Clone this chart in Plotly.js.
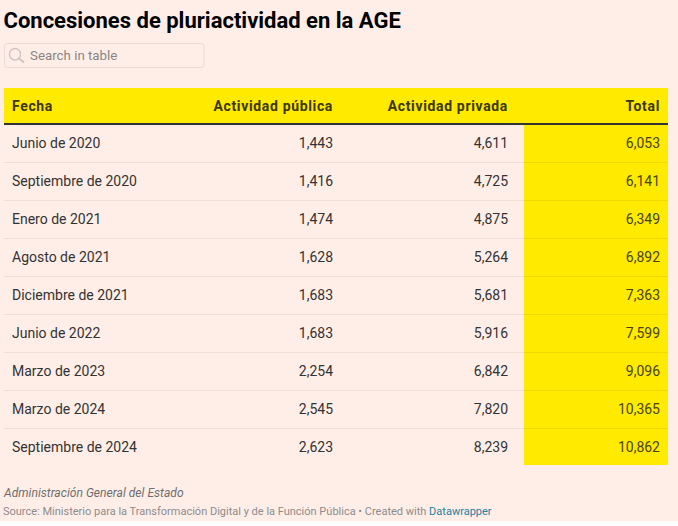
<!DOCTYPE html>
<html>
<head>
<meta charset="utf-8">
<script src="https://cdn.plot.ly/plotly-3.0.1.min.js"></script>
<style>
html,body{margin:0;padding:0;background:#fff}
#chart{width:678px;height:521px}
#chart .cell-text{transform:translateY(5px)}
#chart #header .cell-text{transform:translateY(4px);letter-spacing:.65px}
</style>
</head>
<body>
<div id="chart"></div>
<script>
const headers = ["Fecha", "Actividad pública", "Actividad privada", "", "Total"];
const fechas = ["Junio de 2020","Septiembre de 2020","Enero de 2021","Agosto de 2021","Diciembre de 2021","Junio de 2022","Marzo de 2023","Marzo de 2024","Septiembre de 2024"];
const publica = [1443,1416,1474,1628,1683,1683,2254,2545,2623];
const privada = [4611,4725,4875,5264,5681,5916,6842,7820,8239];
const total = [6053,6141,6349,6892,7363,7599,9096,10365,10862];
const spacer = fechas.map(() => "");

const W = 678, H = 521, BG = "#ffeee8", YEL = "#ffea00";
const px = x => x / W, py = y => 1 - y / H;
const FONT = "Roboto, sans-serif";

const trace = {
  type: "table",
  domain: {x: [px(4), px(668)], y: [py(466), py(88)]},
  columnwidth: [162, 175, 175, 8, 144],
  header: {
    values: headers.map(h => [h]),
    height: 36,
    align: ["left", "right", "right", "right", "right"],
    fill: {color: YEL},
    line: {width: 0, color: YEL},
    font: {family: FONT, size: 14, color: "#3d3800", weight: 700}
  },
  cells: {
    values: [fechas, publica, privada, spacer, total],
    format: ["", ",d", ",d", "", ",d"],
    height: 38,
    align: ["left", "right", "right", "right", "right"],
    fill: {color: [BG, BG, BG, BG, YEL]},
    line: {width: 0, color: BG},
    font: {family: FONT, size: 14, color: ["#333333", "#333333", "#333333", "#333333", "#4a4500"]}
  }
};

const hRule = (y, c, w) => ({type: "line", xref: "paper", yref: "paper", x0: px(4), x1: px(668), y0: py(y), y1: py(y), line: {color: c, width: w}, layer: "above"});
const rules = fechas.slice(0, -1).map((_, i) => hRule(162.5 + 38 * i, "rgba(90,50,30,0.09)", 1));

const layout = {
  width: W, height: H,
  margin: {l: 0, r: 0, t: 0, b: 0},
  paper_bgcolor: BG,
  plot_bgcolor: BG,
  font: {family: FONT},
  title: {
    text: "Concesiones de pluriactividad en la AGE",
    font: {family: FONT, size: 22, color: "#000000", weight: 700},
    x: px(3.5), xanchor: "left", xref: "paper",
    y: py(20), yanchor: "middle", yref: "paper"
  },
  shapes: [
    hRule(124, "#333333", 2),
    ...rules,
    {type: "path", xref: "paper", yref: "paper",
     path: `M ${px(7)} ${py(43.5)} L ${px(201)} ${py(43.5)} Q ${px(204)} ${py(43.5)} ${px(204)} ${py(46.5)} L ${px(204)} ${py(64.5)} Q ${px(204)} ${py(67.5)} ${px(201)} ${py(67.5)} L ${px(7)} ${py(67.5)} Q ${px(4.5)} ${py(67.5)} ${px(4.5)} ${py(64.5)} L ${px(4.5)} ${py(46.5)} Q ${px(4.5)} ${py(43.5)} ${px(7)} ${py(43.5)} Z`,
     line: {color: "#ecd9d3", width: 1}, fillcolor: "rgba(0,0,0,0)"},
    {type: "circle", xref: "paper", yref: "paper", x0: px(9.5), x1: px(20.5), y0: py(60), y1: py(48.5), line: {color: "#cfc4c0", width: 1.3}},
    {type: "line", xref: "paper", yref: "paper", x0: px(19), x1: px(24), y0: py(58.5), y1: py(62.5), line: {color: "#cfc4c0", width: 2}}
  ],
  annotations: [
    {text: "Search in table", xref: "paper", yref: "paper", x: px(28), y: py(55), xanchor: "left", yanchor: "middle", showarrow: false, font: {family: FONT, size: 13.3, color: "#8a8583"}},
    {text: "<i>Administración General del Estado</i>", xref: "paper", yref: "paper", x: px(1), y: py(493), xanchor: "left", yanchor: "middle", showarrow: false, font: {family: FONT, size: 12.1, color: "#6e6e6e"}},
    {text: 'Source: Ministerio para la Transformación Digital y de la Función Pública • Created with <span style="color:#1d81a2">Datawrapper</span>', xref: "paper", yref: "paper", x: px(1), y: py(511), xanchor: "left", yanchor: "middle", showarrow: false, font: {family: FONT, size: 11, color: "#8c8c8c"}}
  ]
};

Plotly.newPlot("chart", [trace], layout, {displayModeBar: false, responsive: false});
</script>
</body>
</html>
